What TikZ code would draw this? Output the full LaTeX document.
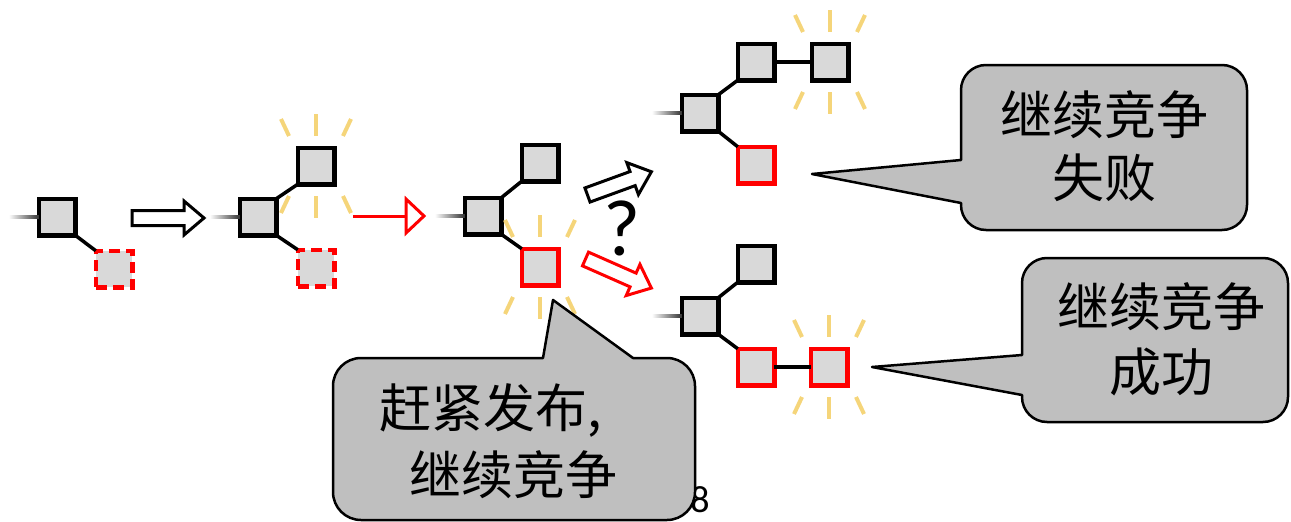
\documentclass[tikz,border=0pt]{standalone}
\usepackage{fontspec}
\setmainfont{Carlito}
\newfontfamily\cjk{Noto Sans CJK SC}
\usetikzlibrary{calc}
\definecolor{sqgray}{HTML}{D9D9D9}
\definecolor{cgray}{HTML}{BFBFBF}
\definecolor{rayc}{HTML}{F5D57A}
\definecolor{pred}{HTML}{FF0000}
\tikzset{
  sq/.style={draw=black, line width=4.5pt, fill=sqgray, minimum size=36.5pt, inner sep=0pt, outer sep=0pt},
  rsq/.style={sq, draw=pred},
  dsq/.style={sq, draw=pred, dash pattern=on 11pt off 6pt},
  conn/.style={line width=3.5pt, black},
  ray/.style={line width=4pt, rayc},
  callout/.style={draw=black, line width=2.5pt, fill=cgray, line join=round},
  ctext/.style={font=\cjk\fontsize{52}{63}\selectfont, inner sep=0pt},
  barrow/.style={line width=3pt, fill=white, line join=miter},
}
\newcommand\rays[1]{%
  \foreach \s in {1,-1}{%
    \draw[ray] ($(#1)+(0,30*\s)$) -- ($(#1)+(0,52*\s)$);
    \draw[ray] ($(#1)+(-27,30*\s)$) -- ($(#1)+(-35,47*\s)$);
    \draw[ray] ($(#1)+(27,30*\s)$) -- ($(#1)+(35,47*\s)$);
  }}
\newcommand\fade[1]{\shade[left color=white, right color=black!80] ($(#1.west)+(-30,-1.5)$) rectangle ($(#1.west)+(0,1.5)$);}
\newcommand\blockarrow[5]{%
  \draw[barrow, draw=#5, shift={(#1,#2)}, rotate=#3] (0,-7.5) -- (#4-20,-7.5) -- (#4-20,-17) -- (#4,0) -- (#4-20,17) -- (#4-20,7.5) -- (0,7.5) -- cycle;}
\begin{document}
\begin{tikzpicture}[x=1pt,y=1pt]
\useasboundingbox (0,0) rectangle (1291,-522);

% diagram 1
\node[sq] (a1) at (57,-217) {};
\node[dsq] (b1) at (114,-269) {};
% diagram 2
\node[sq] (a2) at (258,-217) {};
\node[sq] (b2) at (316,-166) {};
\node[dsq] (c2) at (316,-268) {};
% diagram 3
\node[sq] (a3) at (483,-216) {};
\node[sq] (b3) at (540,-163) {};
\node[rsq] (c3) at (540,-267) {};
% diagram 4
\node[sq] (a4) at (700,-113) {};
\node[sq] (b4) at (756,-62) {};
\node[sq] (c4) at (830,-62) {};
\node[rsq] (d4) at (756,-165) {};
% diagram 5
\node[sq] (a5) at (700,-316) {};
\node[sq] (b5) at (756,-264) {};
\node[rsq] (c5) at (756,-367) {};
\node[rsq] (d5) at (829,-367) {};

% fading lead-in lines
\fade{a1}\fade{a2}\fade{a3}\fade{a4}\fade{a5}

% connectors
\draw[conn] (a1.south east) -- (b1.north west);
\draw[conn] (a2.north east) -- (b2.south west);
\draw[conn] (a2.south east) -- (c2.north west);
\draw[conn] (a3.north east) -- (b3.south west);
\draw[conn] (a3.south east) -- (c3.north west);
\draw[conn] (a4.north east) -- (b4.south west);
\draw[conn] (a4.south east) -- (d4.north west);
\draw[conn] (b4.east) -- (c4.west);
\draw[conn] (a5.north east) -- (b5.south west);
\draw[conn] (a5.south east) -- (c5.north west);
\draw[conn] (c5.east) -- (d5.west);

% rays
\rays{b2}\rays{c3}\rays{c4}\rays{d5}

% arrows between stages
\blockarrow{132}{-218}{0}{72}{black}
\draw[pred, line width=3pt] (353,-216) -- (406,-216);
\draw[pred, line width=3pt, fill=white, line join=miter] (406,-199) -- (424,-216) -- (406,-233) -- cycle;
\blockarrow{587.5}{-195}{20}{68}{black}
\blockarrow{585.5}{-259}{-23.8}{72}{pred}
\node[font=\fontsize{80}{82}\selectfont, inner sep=0pt] (q) at (622,-228) {?};

% page number (partly hidden)
\node[font=\fontsize{38}{40}\selectfont, inner sep=0pt] (pg) at (700,-500) {8};

% callout 1
\draw[callout] (961,-160) -- (812,-174) -- (961,-203) -- (961,-205)
  arc[start angle=180, end angle=270, radius=25] -- (1222,-230)
  arc[start angle=270, end angle=360, radius=25] -- (1247,-90)
  arc[start angle=0, end angle=90, radius=25] -- (986,-65)
  arc[start angle=90, end angle=180, radius=25] -- cycle;
\node[ctext] (t1a) at (1104,-115) {继续竞争};
\node[ctext] (t1b) at (1104,-178) {失败};

% callout 2
\draw[callout] (1022,-355) -- (872,-367) -- (1022,-395) -- (1022,-397)
  arc[start angle=180, end angle=270, radius=25] -- (1263,-422)
  arc[start angle=270, end angle=360, radius=25] -- (1288,-283)
  arc[start angle=0, end angle=90, radius=25] -- (1047,-258)
  arc[start angle=90, end angle=180, radius=25] -- cycle;
\node[ctext] (t2a) at (1161,-307) {继续竞争};
\node[ctext] (t2b) at (1161,-372) {成功};

% callout 3
\draw[callout] (543,-358) -- (553,-300) -- (633,-358) -- (667,-358)
  arc[start angle=90, end angle=0, radius=28] -- (695,-492)
  arc[start angle=0, end angle=-90, radius=28] -- (361,-520)
  arc[start angle=270, end angle=180, radius=28] -- (333,-386)
  arc[start angle=180, end angle=90, radius=28] -- cycle;
\node[ctext, anchor=west] (t3a) at (379,-410) {赶紧发布,};
\node[ctext] (t3b) at (513,-475) {继续竞争};
\end{tikzpicture}
\end{document}
